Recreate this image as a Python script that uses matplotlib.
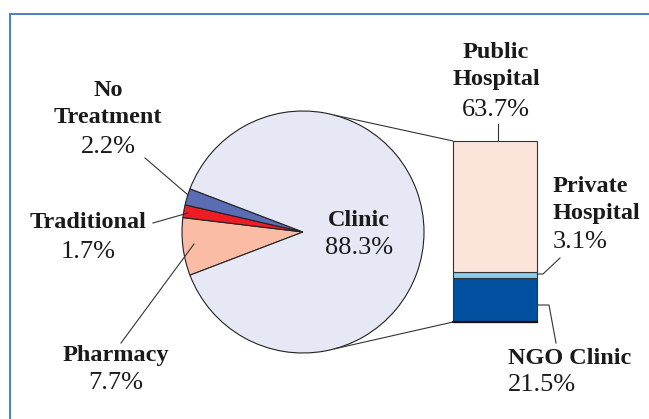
import matplotlib
matplotlib.use("Agg")
import matplotlib.pyplot as plt
from matplotlib.patches import ConnectionPatch
import numpy as np

# ---- data ----
pie_labels = ["Pharmacy", "Traditional", "No\nTreatment", "Clinic"]
pie_values = [7.7, 1.7, 2.2, 88.3]
pie_colors = ["#FBBCA6", "#EE1C25", "#5A6DB4", "#E6E9F5"]

bar_labels = ["NGO Clinic", "Private\nHospital", "Public\nHospital"]   # bottom -> top
bar_values = [21.5, 3.1, 63.7]
bar_colors = ["#0050A0", "#87CDEE", "#FDE4DB"]

W, H = 649, 419
fig = plt.figure(figsize=(W / 100, H / 100), dpi=100)
ax = fig.add_axes([0, 0, 1, 1])

FONT = "Liberation Serif"
FS = 17.5
FS_PCT = 19
TXT = "#1a1a1a"

def Y(y):  # pixel row -> data y
    return H - y

# ---- pie ----
cx, cy, R = 303, Y(232), 121
ax.pie(pie_values, colors=pie_colors, startangle=200.9, counterclock=False,
       center=(cx, cy), radius=R,
       wedgeprops=dict(edgecolor="#222222", linewidth=0.8))
ax.set_xlim(0, W)
ax.set_ylim(0, H)
ax.set_aspect("equal")
ax.axis("off")

# ---- stacked bar ----
bx0, bx1, by0, by1 = 453, 537, 141, 322
axb = fig.add_axes([bx0 / W, (H - by1) / H, (bx1 - bx0) / W, (by1 - by0) / H])
bottoms = np.concatenate([[0], np.cumsum(bar_values)[:-1]])
bars = axb.bar([0] * len(bar_values), bar_values, bottom=bottoms, width=1.0,
               color=bar_colors, edgecolor="#333333", linewidth=0.8)
for b in bars:
    b.set_clip_on(False)
total = sum(bar_values)
axb.set_xlim(-0.5, 0.5)
axb.set_ylim(0, total)
axb.axis("off")
axb.plot([-0.5, 0.5], [0, 0], color="#111111", lw=1.6, clip_on=False)

# ---- connection lines (pie -> bar corners) ----
for ang, yb in [(75, total), (-75, 0)]:
    px = cx + R * np.cos(np.radians(ang))
    py = cy + R * np.sin(np.radians(ang))
    con = ConnectionPatch(xyA=(px, py), coordsA=ax.transData,
                          xyB=(-0.5, yb), coordsB=axb.transData,
                          color="#333333", lw=0.8)
    fig.add_artist(con)

# ---- labels ----
def label(name, val, x, y_name, y_val, ha="center"):
    ax.text(x, Y(y_name), name, ha=ha, va="center", fontsize=FS,
            fontweight="bold", family=FONT, color=TXT, linespacing=1.32)
    ax.text(x, Y(y_val), f"{val}%", ha=ha, va="center", fontsize=FS_PCT,
            family=FONT, color=TXT)

def leader(pts):
    xs = [p[0] for p in pts]
    ys = [Y(p[1]) for p in pts]
    ax.plot(xs, ys, color="#333333", lw=0.8)

# pie labels
label(pie_labels[2], pie_values[2], 108, 104, 147)
leader([(145, 158), (188, 195)])
label(pie_labels[1], pie_values[1], 88, 222, 252)
leader([(153, 223), (188, 213)])
label(pie_labels[0], pie_values[0], 116, 355, 383)
leader([(121, 343), (194, 244)])
label(pie_labels[3], pie_values[3], 359, 220, 248)

# bar labels
label(bar_labels[2], bar_values[2], 496, 66, 110)
leader([(498, 124), (498, 155)])
label(bar_labels[1], bar_values[1], 553, 200, 242, ha="left")
leader([(535, 274), (543, 274), (560, 258)])
label(bar_labels[0], bar_values[0], 508, 358, 385, ha="left")
leader([(527, 305), (549, 305), (556, 343)])

# ---- frame ----
ax.plot([9.5, 9.5, W + 5], [-5, Y(13.5), Y(13.5)], color="#3C74B8", lw=1.3,
        clip_on=False, solid_joinstyle="miter")

fig.savefig("out.png", dpi=100)
